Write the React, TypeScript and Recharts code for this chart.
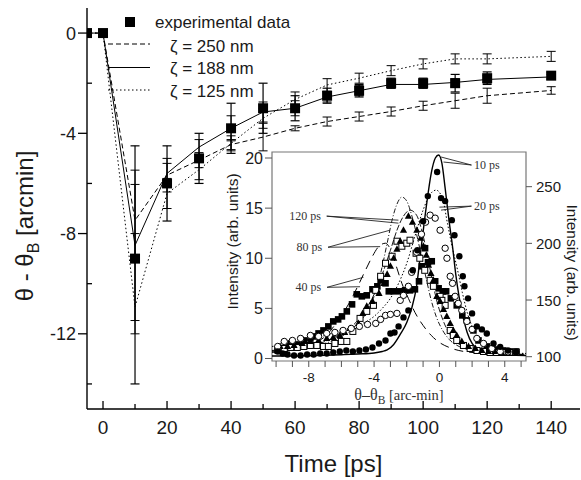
import React from "react"
import {
  ComposedChart,
  Line,
  Scatter,
  XAxis,
  YAxis,
  ErrorBar,
  Label,
  ReferenceArea,
  ReferenceLine,
  ReferenceDot,
} from "recharts"

const SANS = "'Liberation Sans', Arial, sans-serif"
const SERIF = "'Liberation Serif', 'Times New Roman', serif"
const INK = "#1a1a1a"

// ---- main chart: deflection vs delay ----
const times = [-5, 0, 10, 20, 30, 40, 50, 60, 70, 80, 90, 100, 110, 120, 140]
const expShift = [0, 0, -9.0, -6.0, -5.0, -3.8, -3.0, -3.0, -2.5, -2.3, -2.0, -2.0, -2.0, -1.8, -1.7]
const expErr = [0, 0, [5, 4.5], 1.5, 1, 1, 1, 0.5, 0.3, 0.25, 0.2, 0.2, 0.35, 0.25, 0.12]
const fit250 = [0, 0, -7.47, -5.67, -5.07, -4.45, -4.15, -3.8, -3.53, -3.33, -3.13, -2.9, -2.7, -2.5, -2.29]
const err250 = [0, 0, 1.43, 0.67, 0.3, 0.2, 0.55, 0.1, 0.18, 0.18, 0.18, 0.18, 0.3, 0.3, 0.15]
const fit188 = [0, 0, -8.47, -5.6, -4.55, -3.8, -3.15, -3.0, -2.55, -2.3, -2.05, -2.05, -1.97, -1.85, -1.75]
const err188 = [0, 0, 3, 0.4, 0.3, 0.5, 0.4, 0.3, 0.2, 0.2, 0.15, 0.15, 0.15, 0.15, 0.1]
const fit125 = [0, 0, -10.93, -6.4, -5.45, -4.4, -3.4, -2.65, -2.07, -1.8, -1.5, -1.23, -1.03, -1.03, -0.93]
const err125 = [0, 0, [1.07, 2.93], 0.6, 0.4, 0.3, 0.4, 0.3, 0.25, 0.2, 0.2, 0.2, 0.2, 0.2, 0.2]

const mainXTicks = [0, 10, 20, 30, 40, 50, 60, 70, 80, 90, 100, 110, 120, 130, 140]
const mainYTicks = [0, -2, -4, -6, -8, -10, -12, -14]

const mainRows = times.map((t, i) => ({
  t,
  exp: expShift[i],
  expErr: expErr[i],
  m250: fit250[i],
  e250: err250[i],
  m188: fit188[i],
  e188: err188[i],
  m125: fit125[i],
  e125: err125[i],
}))

// ---- inset: rocking curves, [angle, intensity] ----
const fit10 = [[-10.25, 0.25], [-9, 0.25], [-8, 0.28], [-7, 0.32], [-6, 0.38], [-5, 0.45], [-4, 0.55], [-3.5, 0.7], [-3.2, 0.85], [-2.8, 1.4], [-2.4, 2.4], [-2.0, 3.6], [-1.7, 5.0], [-1.4, 7.2], [-1.1, 11.3], [-0.8, 15.2], [-0.5, 18.5], [-0.25, 20.0], [-0.05, 20.3], [0.15, 19.5], [0.35, 17.0], [0.6, 13.6], [0.8, 11.2], [1.0, 8.4], [1.2, 6.2], [1.4, 4.5], [1.7, 2.6], [2.0, 1.5], [2.3, 1.0], [2.7, 0.7], [3.1, 0.5], [4, 0.35], [5.3, 0.3]]
const fit20 = [[-10.25, 1.2], [-9, 1.5], [-8, 1.9], [-7, 2.3], [-6, 2.8], [-5, 3.3], [-4, 4.2], [-3.5, 5.0], [-3, 6.0], [-2.5, 7.5], [-2, 9.5], [-1.5, 12.2], [-1.0, 14.8], [-0.6, 16.3], [-0.2, 16.8], [0.2, 15.9], [0.5, 13.4], [0.8, 11.0], [1.1, 8.9], [1.4, 6.6], [1.7, 4.6], [2.0, 3.2], [2.4, 2.0], [2.8, 1.3], [3.3, 0.8], [4, 0.6], [5.3, 0.5]]
const fit40 = [[-10.25, 0.8], [-9, 1.0], [-8, 1.4], [-7, 2.2], [-6.2, 3.8], [-5.5, 5.6], [-5, 7.2], [-4.5, 8.9], [-4.1, 10.2], [-3.7, 11.2], [-3.3, 11.5], [-2.9, 10.5], [-2.6, 9.0], [-2.3, 7.5], [-1.9, 6.0], [-1.5, 4.6], [-1.0, 3.3], [-0.5, 2.3], [0, 1.6], [0.6, 1.1], [1.5, 0.7], [3, 0.5], [5.3, 0.4]]
const fit80 = [[-10.25, 0.7], [-9, 0.9], [-8, 1.2], [-7, 1.7], [-6, 2.5], [-5, 3.8], [-4.5, 4.9], [-4, 6.4], [-3.5, 8.4], [-3, 10.8], [-2.6, 12.8], [-2.2, 14.2], [-1.8, 14.8], [-1.4, 14.3], [-1.1, 12.9], [-0.8, 10.8], [-0.5, 8.3], [-0.2, 6.0], [0.2, 3.9], [0.6, 2.5], [1.0, 1.7], [1.6, 1.1], [2.5, 0.7], [3.5, 0.5], [5.3, 0.4]]
const fit120 = [[-10.25, 0.6], [-9, 0.8], [-8, 1.1], [-7, 1.5], [-6, 2.2], [-5, 3.4], [-4.5, 4.5], [-4, 6.2], [-3.6, 8.5], [-3.2, 11.5], [-2.9, 13.8], [-2.6, 15.4], [-2.3, 16.1], [-2.0, 15.7], [-1.7, 14.3], [-1.4, 12.4], [-1.1, 10.2], [-0.8, 7.9], [-0.5, 5.8], [-0.2, 4.2], [0.2, 2.8], [0.6, 1.9], [1.2, 1.2], [2, 0.8], [3, 0.6], [5.3, 0.5]]

const dots10 = [[-9.9, 0.7], [-9.6, 0.5], [-9.3, 0.4], [-8.9, 0.3], [-8.5, 0.3], [-8.1, 0.4], [-7.7, 0.4], [-7.3, 0.5], [-6.9, 0.5], [-6.5, 0.6], [-6.1, 0.7], [-5.7, 0.8], [-5.3, 0.7], [-4.9, 0.8], [-4.5, 0.9], [-4.1, 1.1], [-3.7, 1.5], [-3.3, 1.8], [-3.0, 2.5], [-2.75, 2.6], [-2.5, 3.2], [-2.2, 4.1], [-1.9, 4.8], [-1.63, 8.8], [-1.35, 10.8], [-1.0, 13.7], [-0.71, 16.2], [-0.14, 18.6], [0.1, 16.0], [0.35, 15.7], [0.76, 13.8], [0.92, 12.3], [1.22, 10.2], [1.43, 8.2], [1.53, 7.2], [1.75, 6.0], [2.0, 4.5], [2.29, 3.2], [2.6, 2.9], [2.9, 2.5], [3.31, 1.5], [3.72, 1.16], [4.2, 0.8], [4.7, 0.66]]
const dots20 = [[-9.9, 1.2], [-9.5, 1.7], [-9.0, 1.8], [-8.5, 2.0], [-7.9, 2.3], [-7.4, 2.2], [-6.9, 2.5], [-6.4, 2.6], [-5.9, 2.8], [-5.4, 3.0], [-4.9, 3.2], [-4.4, 3.4], [-3.9, 3.5], [-3.6, 3.9], [-3.3, 4.3], [-3.0, 4.4], [-2.6, 4.5], [-2.4, 5.8], [-2.2, 6.3], [-1.9, 7.2], [-1.7, 8.6], [-1.4, 10.6], [-1.1, 12.4], [-0.85, 13.6], [-0.57, 14.3], [-0.26, 14.0], [0.04, 12.8], [0.35, 11.0], [0.46, 10.0], [0.66, 8.2], [0.8, 7.5], [0.96, 6.2], [1.15, 5.5], [1.37, 4.8], [1.68, 3.7], [2.0, 2.9], [2.29, 2.0], [2.7, 1.5], [3.21, 1.0], [3.72, 0.7], [4.2, 0.66], [4.7, 0.66]]
const dots40 = [[-9.9, 0.8], [-9.5, 1.0], [-9.1, 1.5], [-8.7, 1.4], [-8.3, 1.8], [-7.9, 2.0], [-7.6, 2.2], [-7.4, 2.5], [-7.1, 2.8], [-6.8, 3.2], [-6.5, 3.7], [-6.2, 3.9], [-5.97, 4.2], [-5.67, 4.7], [-5.35, 5.4], [-5.06, 6.4], [-4.75, 6.2], [-4.45, 6.3], [-4.1, 6.9], [-3.8, 7.2], [-3.6, 7.8], [-3.3, 7.5], [-3.1, 6.7], [-2.8, 6.7], [-2.4, 6.7], [-2.1, 6.8], [-1.8, 6.8], [-1.5, 6.9], [-1.25, 7.7], [-1.08, 9.2], [-0.88, 11.0], [-0.7, 9.6], [-0.47, 9.7], [-0.26, 7.7], [-0.05, 7.0], [0.2, 6.7], [0.41, 6.7], [0.7, 6.0], [1.06, 5.3], [1.4, 4.3], [1.68, 3.8], [2.08, 2.8], [2.39, 1.8], [2.9, 1.2], [3.5, 0.9], [3.9, 0.8], [4.3, 0.7], [4.7, 0.7]]
const dots80 = [[-9.9, 0.9], [-9.5, 1.0], [-9.1, 1.1], [-8.7, 1.1], [-8.3, 1.2], [-7.9, 1.3], [-7.5, 1.3], [-7.1, 1.2], [-6.8, 1.2], [-6.4, 1.5], [-6.0, 1.7], [-5.67, 1.7], [-5.3, 2.7], [-4.86, 4.0], [-4.45, 4.7], [-4.04, 5.3], [-3.9, 6.8], [-3.6, 8.2], [-3.3, 9.5], [-2.9, 10.2], [-2.6, 11.7], [-2.3, 11.2], [-2.0, 11.5], [-1.8, 11.8], [-1.43, 10.5], [-1.2, 10.0], [-0.9, 8.8], [-0.57, 7.8], [-0.37, 7.2], [0.04, 6.2], [0.15, 5.8], [0.35, 5.3], [0.66, 2.8], [0.85, 2.3], [1.06, 1.8], [1.47, 1.3], [1.88, 1.0], [2.3, 0.8], [2.7, 0.7], [3.1, 0.6], [3.5, 0.6], [3.9, 0.6], [4.3, 0.6], [4.7, 0.6]]
const dots120 = [[-9.75, 1.2], [-9.3, 1.2], [-8.9, 1.3], [-8.4, 1.5], [-7.9, 1.7], [-7.4, 1.8], [-6.9, 2.0], [-6.5, 2.1], [-6.1, 2.3], [-5.8, 2.6], [-5.47, 3.0], [-4.96, 3.5], [-4.7, 4.5], [-4.45, 5.2], [-4.1, 5.7], [-3.7, 6.5], [-3.4, 7.5], [-3.2, 8.4], [-3.0, 9.2], [-2.8, 10.0], [-2.6, 10.9], [-2.4, 11.7], [-2.2, 12.8], [-1.9, 14.2], [-1.65, 13.6], [-1.38, 12.8], [-1.15, 12.0], [-0.98, 11.2], [-0.8, 10.3], [-0.67, 9.3], [-0.52, 8.5], [-0.37, 7.8], [-0.16, 6.2], [0.04, 5.7], [0.25, 4.9], [0.45, 4.2], [0.66, 3.5], [0.85, 2.8], [1.06, 2.3], [1.37, 1.7], [1.78, 1.2], [2.2, 1.0], [2.6, 0.8], [3.0, 0.7], [3.4, 0.7], [3.8, 0.6], [4.2, 0.6], [4.7, 0.6]]

const insetXTicks = [-10, -9, -8, -7, -6, -5, -4, -3, -2, -1, 0, 1, 2, 3, 4, 5]
const insetLeftTicks = [0, 5, 10, 15, 20]
const insetRightTicks = [100, 150, 200, 250]

// label text, anchor point, and the two points its leader lines reach
const tags = [
  { text: "10 ps", at: [2.06, 19.3], side: "start", to: [[0.1, 20.1], [0.25, 19.6]] },
  { text: "20 ps", at: [2.06, 15.2], side: "start", to: [[0.0, 15.1], [0.1, 14.8]] },
  { text: "120 ps", at: [-7.2, 14.2], side: "end", to: [[-2.51, 13.8], [-2.51, 13.5]] },
  { text: "80 ps", at: [-7.12, 11.1], side: "end", to: [[-3.02, 12.8], [-3.63, 11.16]] },
  { text: "40 ps", at: [-7.18, 7.1], side: "end", to: [[-4.65, 8.1], [-4.86, 7.16]] },
]

const pts = (arr: number[][]) => arr.map(([x, y]) => ({ x, y }))

function MainXTick({ x, y, payload }: any) {
  const major = payload.value % 20 === 0
  return (
    <g>
      <line x1={x} x2={x} y1={y} y2={y - (major ? 8 : 5)} stroke="#000" strokeWidth={1.3} />
      {major && (
        <text x={x} y={y + 25} textAnchor="middle" fontFamily={SANS} fontSize={19} fill={INK}>
          {payload.value}
        </text>
      )}
    </g>
  )
}

function MainYTick({ x, y, payload }: any) {
  const major = payload.value % 4 === 0
  return (
    <g>
      {major ? (
        <line x1={x - 9} x2={x} y1={y} y2={y} stroke="#000" strokeWidth={1.3} />
      ) : (
        <line x1={x} x2={x + 5} y1={y} y2={y} stroke="#000" strokeWidth={1.3} />
      )}
      {major && (
        <text x={x - 11} y={y + 6.5} textAnchor="end" fontFamily={SANS} fontSize={18} fill={INK}>
          {payload.value}
        </text>
      )}
    </g>
  )
}

function InsetXTick({ x, y, payload }: any) {
  const labelled = payload.value % 4 === 0
  return (
    <g>
      <line x1={x} x2={x} y1={y} y2={y + 6} stroke="#555" />
      {labelled && (
        <text x={x} y={y + 21} textAnchor="middle" fontFamily={SANS} fontSize={13.5} fill={INK}>
          {payload.value}
        </text>
      )}
    </g>
  )
}

function InsetLeftTick({ x, y, payload }: any) {
  return (
    <g>
      <line x1={x - 7} x2={x} y1={y} y2={y} stroke="#555" />
      <text x={x - 9} y={y + 5.5} textAnchor="end" fontFamily={SANS} fontSize={16} fill={INK}>
        {payload.value}
      </text>
    </g>
  )
}

function InsetRightTick({ x, y, payload }: any) {
  return (
    <g>
      <line x1={x} x2={x + 6} y1={y} y2={y} stroke="#555" />
      <text x={x + 10} y={y + 5.5} textAnchor="start" fontFamily={SANS} fontSize={15} fill={INK}>
        {payload.value}
      </text>
    </g>
  )
}

const fullDot = (p: any) => <circle cx={p.cx} cy={p.cy} r={3.2} fill="#000" />
const openDot = (p: any) => <circle cx={p.cx} cy={p.cy} r={3.2} fill="#fff" stroke="#000" strokeWidth={1} />
const fullSquare = (p: any) => <rect x={p.cx - 3.3} y={p.cy - 3.3} width={6.6} height={6.6} fill="#000" />
const openSquare = (p: any) => (
  <rect x={p.cx - 3} y={p.cy - 3} width={6} height={6} fill="#fff" stroke="#000" strokeWidth={1} />
)
const triangle = (p: any) => (
  <polygon points={`${p.cx},${p.cy - 4} ${p.cx - 3.6},${p.cy + 2.6} ${p.cx + 3.6},${p.cy + 2.6}`} fill="#000" />
)
const bigSquare = (p: any) => <rect x={p.cx - 5} y={p.cy - 5} width={10} height={10} fill="#000" />

function Legend() {
  return (
    <svg width={581} height={110} style={{ position: "absolute", left: 0, top: 0, pointerEvents: "none" }}>
      <g fontFamily={SANS} fontSize={17} fill={INK}>
        <rect x={125} y={17} width={10} height={10} fill="#000" />
        <text x={155} y={28}>experimental data</text>
        <line x1={108} x2={150} y1={44} y2={44} stroke="#000" strokeDasharray="5 3" />
        <text x={170} y={51.5}>ζ = 250 nm</text>
        <line x1={108} x2={150} y1={67.5} y2={67.5} stroke="#000" />
        <text x={170} y={74}>ζ = 188 nm</text>
        <line x1={108} x2={150} y1={90} y2={90} stroke="#000" strokeDasharray="1.5 2.5" />
        <text x={170} y={96.5}>ζ = 125 nm</text>
      </g>
    </svg>
  )
}

export default function App() {
  return (
    <div style={{ position: "absolute", left: 0, top: 0, width: 581, height: 480, background: "#fff" }}>
      <ComposedChart width={581} height={480} data={mainRows} margin={{ top: 8, right: 1, bottom: 0, left: 0 }}>
        <XAxis
          dataKey="t"
          type="number"
          domain={[-5, 149]}
          allowDataOverflow
          ticks={mainXTicks}
          interval={0}
          tick={(p: any) => <MainXTick {...p} />}
          tickLine={false}
          tickSize={0}
          tickMargin={0}
          axisLine={{ stroke: "#000", strokeWidth: 1.4 }}
          height={71}
        >
          <Label
            content={({ viewBox }: any) => (
              <text x={viewBox.x + viewBox.width / 2} y={viewBox.y + 63} textAnchor="middle" fontFamily={SANS} fontSize={24} fill={INK}>
                Time [ps]
              </text>
            )}
          />
        </XAxis>
        <YAxis
          type="number"
          domain={[-15, 1]}
          allowDataOverflow
          ticks={mainYTicks}
          interval={0}
          tick={(p: any) => <MainYTick {...p} />}
          tickLine={false}
          tickSize={0}
          tickMargin={0}
          axisLine={{ stroke: "#000", strokeWidth: 1.4 }}
          width={87}
        >
          <Label
            content={({ viewBox }: any) => (
              <text
                transform={`translate(${viewBox.x + 33},${viewBox.y + 218}) rotate(-90)`}
                textAnchor="middle"
                fontFamily={SANS}
                fontSize={24}
                fill={INK}
              >
                θ - θ<tspan fontSize={16} dy={6}>B</tspan>
                <tspan dy={-6}> [arcmin]</tspan>
              </text>
            )}
          />
        </YAxis>
        <Line dataKey="m250" stroke="#000" strokeWidth={1} strokeDasharray="5 3" dot={false} isAnimationActive={false}>
          <ErrorBar dataKey="e250" width={4.5} stroke="#000" strokeWidth={1} direction="y" />
        </Line>
        <Line dataKey="m188" stroke="#000" strokeWidth={1} dot={false} isAnimationActive={false}>
          <ErrorBar dataKey="e188" width={4.5} stroke="#000" strokeWidth={1} direction="y" />
        </Line>
        <Line dataKey="m125" stroke="#000" strokeWidth={1} strokeDasharray="1.5 2.5" dot={false} isAnimationActive={false}>
          <ErrorBar dataKey="e125" width={4.5} stroke="#000" strokeWidth={1} direction="y" />
        </Line>
        <Scatter dataKey="exp" shape={bigSquare} isAnimationActive={false}>
          <ErrorBar dataKey="expErr" width={4.5} stroke="#000" strokeWidth={1.2} direction="y" />
        </Scatter>
      </ComposedChart>

      <Legend />

      <div style={{ position: "absolute", left: 200, top: 140 }}>
        <ComposedChart width={381} height={270} margin={{ top: 12, right: 0, bottom: 0, left: 0 }}>
          <XAxis
            dataKey="x"
            type="number"
            domain={[-10.25, 5.3]}
            allowDataOverflow
            ticks={insetXTicks}
            interval={0}
            tick={(p: any) => <InsetXTick {...p} />}
            tickLine={false}
            tickSize={0}
            tickMargin={0}
            axisLine={false}
            height={49}
          >
            <Label
              content={({ viewBox }: any) => (
                <text x={viewBox.x + viewBox.width / 2} y={viewBox.y + 39} textAnchor="middle" fontFamily={SERIF} fill="#333">
                  <tspan fontSize={16}>θ–θ</tspan>
                  <tspan fontSize={11.5} dy={4}>B</tspan>
                  <tspan fontSize={14.5} dy={-4}> [arc-min]</tspan>
                </text>
              )}
            />
          </XAxis>
          <YAxis
            type="number"
            domain={[-0.25, 20.6]}
            allowDataOverflow
            ticks={insetLeftTicks}
            interval={0}
            tick={(p: any) => <InsetLeftTick {...p} />}
            tickLine={false}
            tickSize={0}
            tickMargin={0}
            axisLine={false}
            width={72}
          >
            <Label
              content={({ viewBox }: any) => (
                <text
                  transform={`translate(${viewBox.x + 38},${viewBox.y + 89.5}) rotate(-90)`}
                  textAnchor="middle"
                  fontFamily={SANS}
                  fontSize={15.5}
                  fill={INK}
                >
                  Intensity (arb. units)
                </text>
              )}
            />
          </YAxis>
          <YAxis
            yAxisId="right"
            orientation="right"
            type="number"
            domain={[96.2, 280.6]}
            allowDataOverflow
            ticks={insetRightTicks}
            interval={0}
            tick={(p: any) => <InsetRightTick {...p} />}
            tickLine={false}
            tickSize={0}
            tickMargin={0}
            axisLine={false}
            width={55}
          >
            <Label
              content={({ viewBox }: any) => (
                <text
                  transform={`translate(${viewBox.x + 41},${viewBox.y + 120.5}) rotate(90)`}
                  textAnchor="middle"
                  fontFamily={SANS}
                  fontSize={15.5}
                  fill={INK}
                >
                  Intensity (arb. units)
                </text>
              )}
            />
          </YAxis>
          <ReferenceArea x1={-10.25} x2={5.3} y1={-0.25} y2={20.6} fill="none" stroke="#777" strokeWidth={1.2} ifOverflow="visible" />

          <Line data={pts(fit40)} dataKey="y" type="monotone" stroke="#000" strokeWidth={1} strokeDasharray="9 6" dot={false} isAnimationActive={false} />
          <Line data={pts(fit80)} dataKey="y" type="monotone" stroke="#000" strokeWidth={0.9} strokeDasharray="6 2" dot={false} isAnimationActive={false} />
          <Line data={pts(fit120)} dataKey="y" type="monotone" stroke="#000" strokeWidth={0.9} strokeDasharray="5 2 1 2" dot={false} isAnimationActive={false} />
          <Line data={pts(fit20)} dataKey="y" type="monotone" stroke="#000" strokeWidth={1} strokeDasharray="1.5 2" dot={false} isAnimationActive={false} />

          <Scatter data={pts(dots40)} dataKey="y" shape={fullSquare} isAnimationActive={false} />
          <Scatter data={pts(dots80)} dataKey="y" shape={openSquare} isAnimationActive={false} />
          <Scatter data={pts(dots120)} dataKey="y" shape={triangle} isAnimationActive={false} />
          <Scatter data={pts(dots20)} dataKey="y" shape={openDot} isAnimationActive={false} />
          <Scatter data={pts(dots10)} dataKey="y" shape={fullDot} isAnimationActive={false} />

          <Line data={pts(fit10)} dataKey="y" type="monotone" stroke="#000" strokeWidth={1.4} dot={false} isAnimationActive={false} />

          {tags.map((tag) =>
            tag.to.map((end, k) => (
              <ReferenceLine
                key={tag.text + k}
                segment={[{ x: tag.at[0] + (tag.side === "end" ? 0.3 : -0.1), y: tag.at[1] }, { x: end[0], y: end[1] }]}
                stroke="#222"
                strokeWidth={0.9}
                ifOverflow="visible"
              />
            ))
          )}
          {tags.map((tag) => (
            <ReferenceDot
              key={tag.text}
              x={tag.at[0]}
              y={tag.at[1]}
              r={0}
              fill="none"
              stroke="none"
              ifOverflow="visible"
              label={{
                content: ({ viewBox }: any) => (
                  <text
                    x={viewBox.x + (tag.side === "end" ? -1 : 1)}
                    y={viewBox.y + 4}
                    textAnchor={tag.side}
                    fontFamily={SERIF}
                    fontSize={12}
                    fill="#333"
                  >
                    {tag.text}
                  </text>
                ),
              }}
            />
          ))}
        </ComposedChart>
      </div>
    </div>
  )
}
